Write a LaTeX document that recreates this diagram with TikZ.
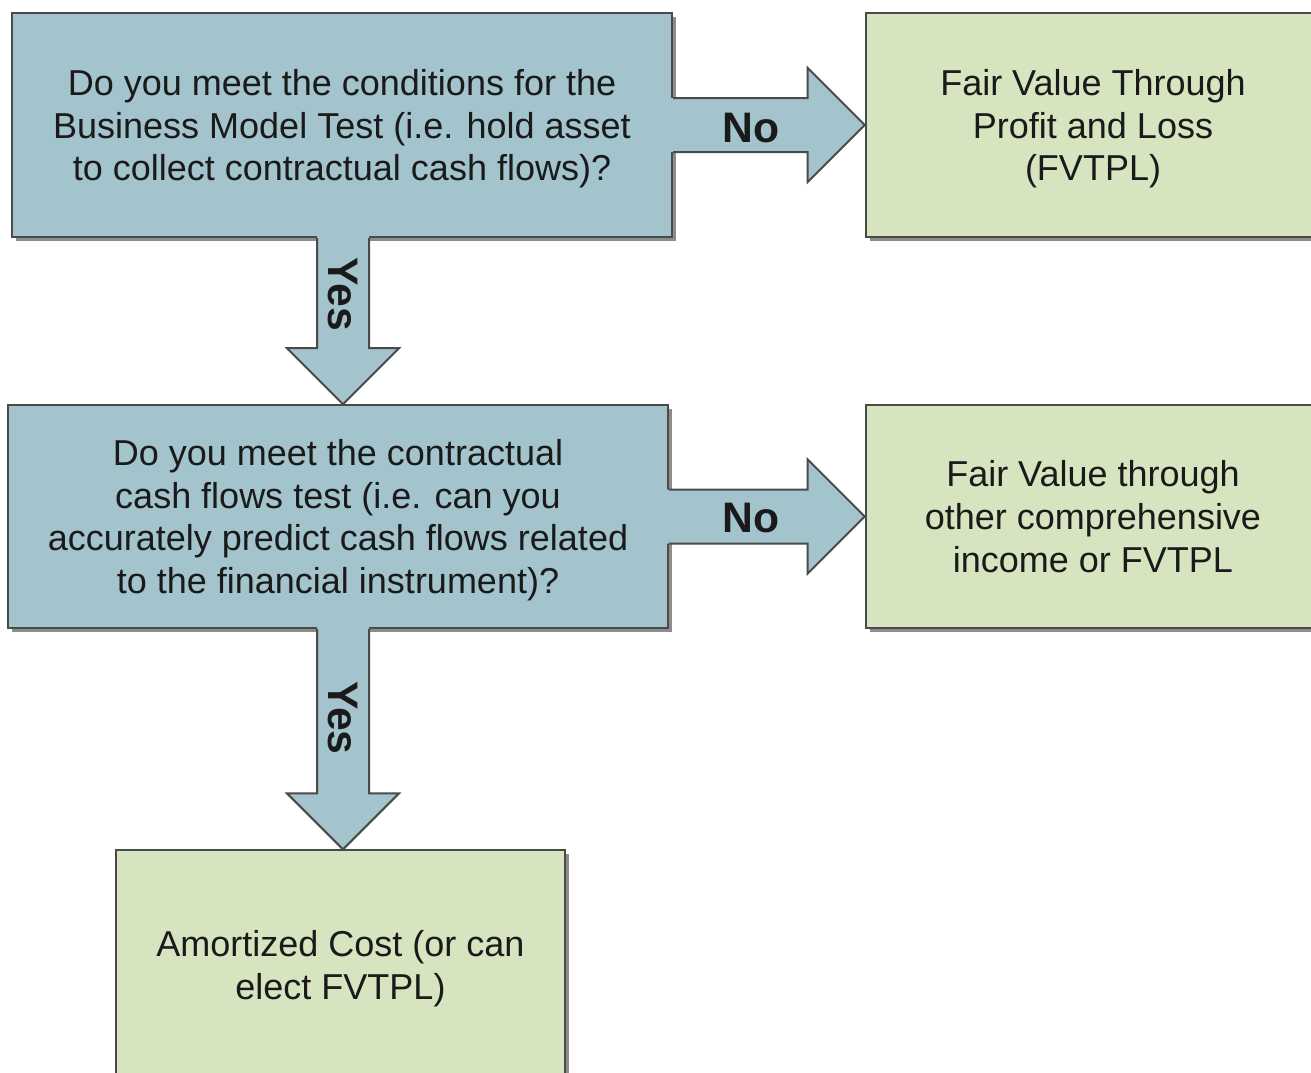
\documentclass[tikz,border=0pt]{standalone}
\usepackage{fontspec}
\setmainfont{Liberation Sans}
\usetikzlibrary{calc,shadows}
\definecolor{qblue}{HTML}{A3C4CC}
\definecolor{rgreen}{HTML}{D6E4BF}
\definecolor{edgegray}{HTML}{4A4A4A}
\definecolor{shadegray}{HTML}{8C8C8C}
\definecolor{txt}{HTML}{1A1A1A}
\newcommand\blkarrowH[2]{% #1 start, #2 tip
  \fill[qblue] ($(#1)+(-3,-27)$) -- ($(#2)+(-57,-27)$) -- ($(#2)+(-57,-57)$) -- (#2)
    -- ($(#2)+(-57,57)$) -- ($(#2)+(-57,27)$) -- ($(#1)+(-3,27)$) -- cycle;
  \draw[arredge] ($(#1)+(0,-27)$) -- ($(#2)+(-57,-27)$) -- ($(#2)+(-57,-57)$) -- (#2)
    -- ($(#2)+(-57,57)$) -- ($(#2)+(-57,27)$) -- ($(#1)+(0,27)$);}
\newcommand\blkarrowV[2]{% #1 start, #2 tip
  \fill[qblue] ($(#1)+(-26,-3)$) -- ($(#2)+(-26,-56)$) -- ($(#2)+(-56,-56)$) -- (#2)
    -- ($(#2)+(56,-56)$) -- ($(#2)+(26,-56)$) -- ($(#1)+(26,-3)$) -- cycle;
  \draw[arredge] ($(#1)+(-26,0)$) -- ($(#2)+(-26,-56)$) -- ($(#2)+(-56,-56)$) -- (#2)
    -- ($(#2)+(56,-56)$) -- ($(#2)+(26,-56)$) -- ($(#1)+(26,0)$);}
\begin{document}
\begin{tikzpicture}[x=0.75pt,y=-0.75pt,
  box/.style={draw=edgegray, line width=1.5pt, rectangle, align=center, inner sep=0pt,
    font=\fontsize{27}{32}\selectfont, text=txt, text depth=0pt,
    drop shadow={shadow xshift=3pt, shadow yshift=-3pt, fill=shadegray, opacity=1}},
  qbox/.style={box, fill=qblue},
  rbox/.style={box, fill=rgreen},
  arredge/.style={draw=edgegray, line width=1.5pt, line join=miter},
  lbl/.style={font=\fontsize{32}{32}\selectfont\bfseries, text=txt, inner sep=0pt}]
\useasboundingbox (0,0) rectangle (1311,1072);
\fill[white] (0,0) rectangle (1311,1072);

\node[qbox, minimum width=495pt, minimum height=168pt] (q1) at (342,125)
  {Do you meet the conditions for the\\Business Model Test (i.e. hold asset\\to collect contractual cash flows)?};
\node[rbox, minimum width=341pt, minimum height=168pt] (r1) at (1093,125)
  {Fair Value Through\\Profit and Loss\\(FVTPL)};
\node[qbox, minimum width=495pt, minimum height=167pt] (q2) at (338,516.5)
  {Do you meet the contractual\\cash flows test (i.e. can you\\accurately predict cash flows related\\to the financial instrument)?};
\node[rbox, minimum width=341pt, minimum height=167pt] (r2) at (1093,516.5)
  {Fair Value through\\other comprehensive\\income or FVTPL};
\node[rbox, minimum width=337pt, minimum height=172pt] (a3) at (340.5,965)
  {Amortized Cost (or can\\elect FVTPL)};

\coordinate (s1) at ($(q1.south)+(1,0)$);
\coordinate (t1) at (s1 |- q2.north);
\coordinate (s2) at ($(q2.south)+(5,0)$);
\coordinate (t2) at (s2 |- a3.north);

\blkarrowH{q1.east}{r1.west}
\blkarrowH{q2.east}{r2.west}
\blkarrowV{s1}{t1}
\blkarrowV{s2}{t2}

\node[lbl] (no1) at ($(q1.east)+(78,3)$) {No};
\node[lbl] (no2) at ($(q2.east)+(82,2)$) {No};
\node[lbl, rotate=-90] (yes1) at ($(s1)+(0,56)$) {Yes};
\node[lbl, rotate=-90] (yes2) at ($(s2)+(0,89)$) {Yes};
\end{tikzpicture}
\end{document}
